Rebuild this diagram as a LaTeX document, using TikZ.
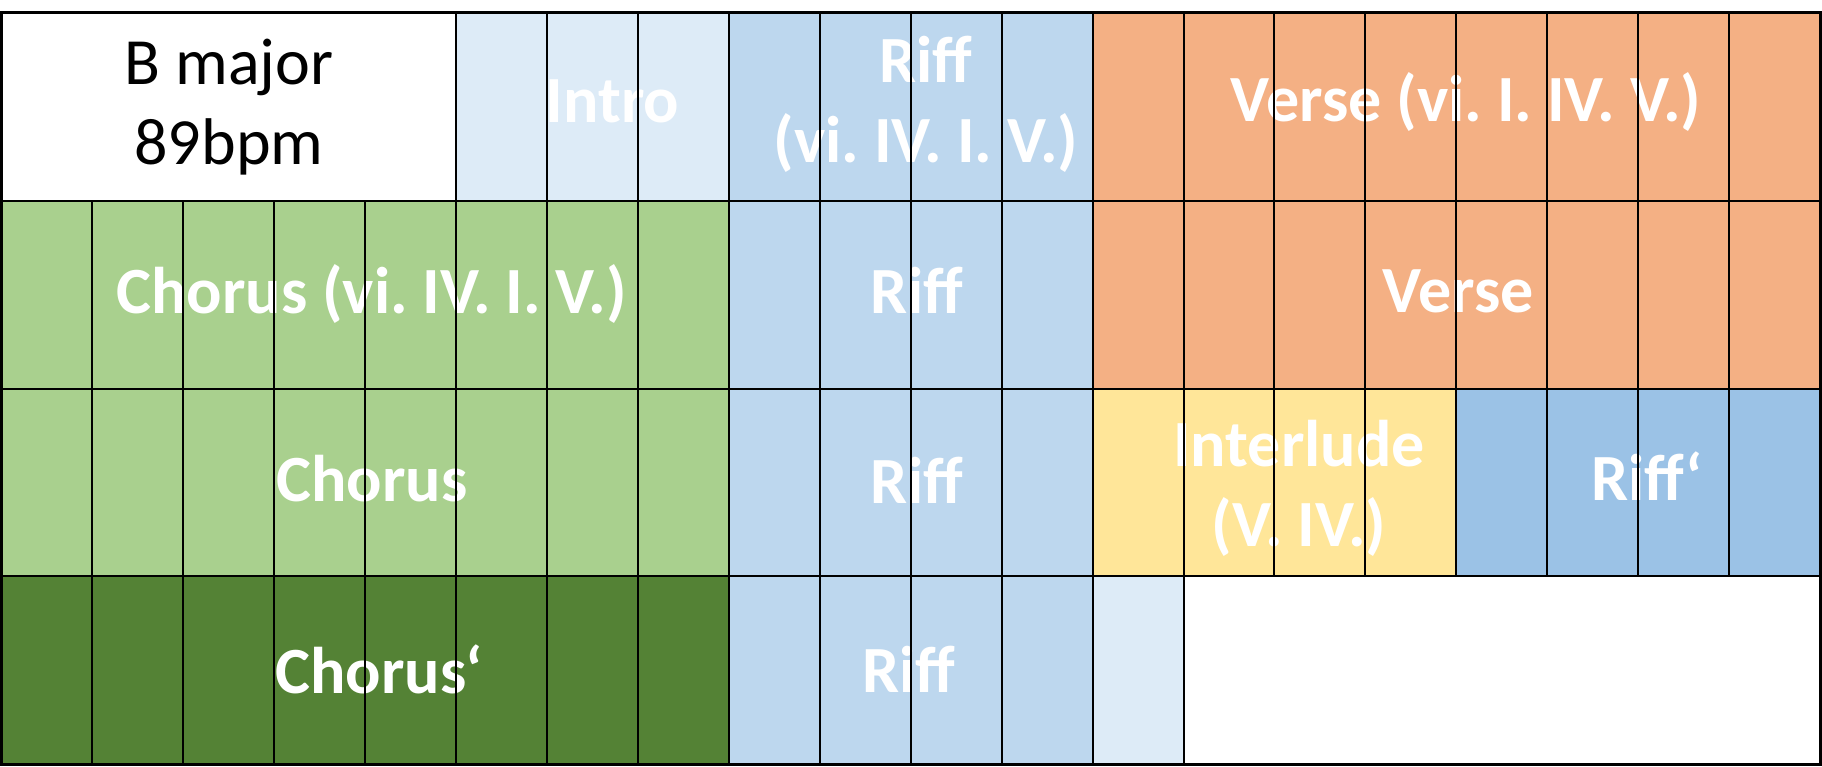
\documentclass[tikz,border=0pt]{standalone}
\usepackage{fontspec}
\setmainfont{Carlito}
\frenchspacing
\definecolor{introblue}{HTML}{DDEBF7}
\definecolor{riffblue}{HTML}{BDD7EE}
\definecolor{riffdark}{HTML}{9BC2E6}
\definecolor{versecol}{HTML}{F4B084}
\definecolor{choruscol}{HTML}{A9D08E}
\definecolor{chorusdark}{HTML}{548235}
\definecolor{interludecol}{HTML}{FFE699}
\begin{document}
\begin{tikzpicture}[x=1pt,y=-1pt,
  gridline/.style={draw=black, line width=2pt},
  border/.style={draw=black, line width=3pt},
  lbl/.style={text=white, font=\fontsize{66}{80}\selectfont\bfseries\frenchspacing, inner sep=0pt, anchor=base, align=center},
  blk/.style={text=black, font=\fontsize{66}{80}\selectfont, inner sep=0pt, anchor=base, align=center}]
\useasboundingbox (0,0) rectangle (1822,767);
\def\cw{90.925}
\def\rh{187.75}
% fills
\foreach \r/\a/\b/\col in {0/0/4/white, 0/5/7/introblue, 0/8/11/riffblue, 0/12/19/versecol,
  1/0/7/choruscol, 1/8/11/riffblue, 1/12/19/versecol,
  2/0/7/choruscol, 2/8/11/riffblue, 2/12/15/interludecol, 2/16/19/riffdark,
  3/0/7/chorusdark, 3/8/11/riffblue, 3/12/12/introblue, 3/13/19/white}{
  \fill[\col] ({1.5+\a*\cw},{13+\r*\rh}) rectangle ({1.5+(\b+1)*\cw},{13+(\r+1)*\rh});
}
% texts (multi-line nodes are anchored at the baseline of their last line)
\node[blk] (key) at (229,165) {B major\\89bpm};
\node[lbl] (intro) at (612.5,123) {Intro};
\node[lbl] (riff1) at (926,163) {Riff\\(vi. IV. I. V.)};
\node[lbl] (verse1) at (1466,122) {Verse (vi. I. IV. V.)};
\node[lbl] (chorus1) at (371.5,313) {Chorus (vi. IV. I. V.)};
\node[lbl] (riff2) at (916.5,313) {Riff};
\node[lbl] (verse2) at (1458.5,312) {Verse};
\node[lbl] (chorus2) at (372,501) {Chorus};
\node[lbl] (riff3) at (916.5,503) {Riff};
\node[lbl] (interlude) at (1299,546) {Interlude\\(V. IV.)};
\node[lbl] (riffp) at (1647,500) {Riff‘};
\node[lbl] (chorusp) at (379,693) {Chorus‘};
\node[lbl] (riff4) at (908.5,692) {Riff};
% grid lines
\foreach \r/\a/\b/\m in {0/0/4/1, 0/5/7/0, 0/8/11/0, 0/12/19/0,
  1/0/7/0, 1/8/11/0, 1/12/19/0,
  2/0/7/0, 2/8/11/0, 2/12/15/0, 2/16/19/0,
  3/0/7/0, 3/8/11/0, 3/12/12/1, 3/13/19/1}{
  \ifnum\m=1
    \draw[gridline] ({1.5+\a*\cw},{13+\r*\rh}) rectangle ({1.5+(\b+1)*\cw},{13+(\r+1)*\rh});
  \else
    \foreach \c in {\a,...,\b}{
      \draw[gridline] ({1.5+\c*\cw},{13+\r*\rh}) rectangle ({1.5+(\c+1)*\cw},{13+(\r+1)*\rh});
    }
  \fi
}
\draw[border] (1.5,13) rectangle (1820.0,764);
\end{tikzpicture}
\end{document}
